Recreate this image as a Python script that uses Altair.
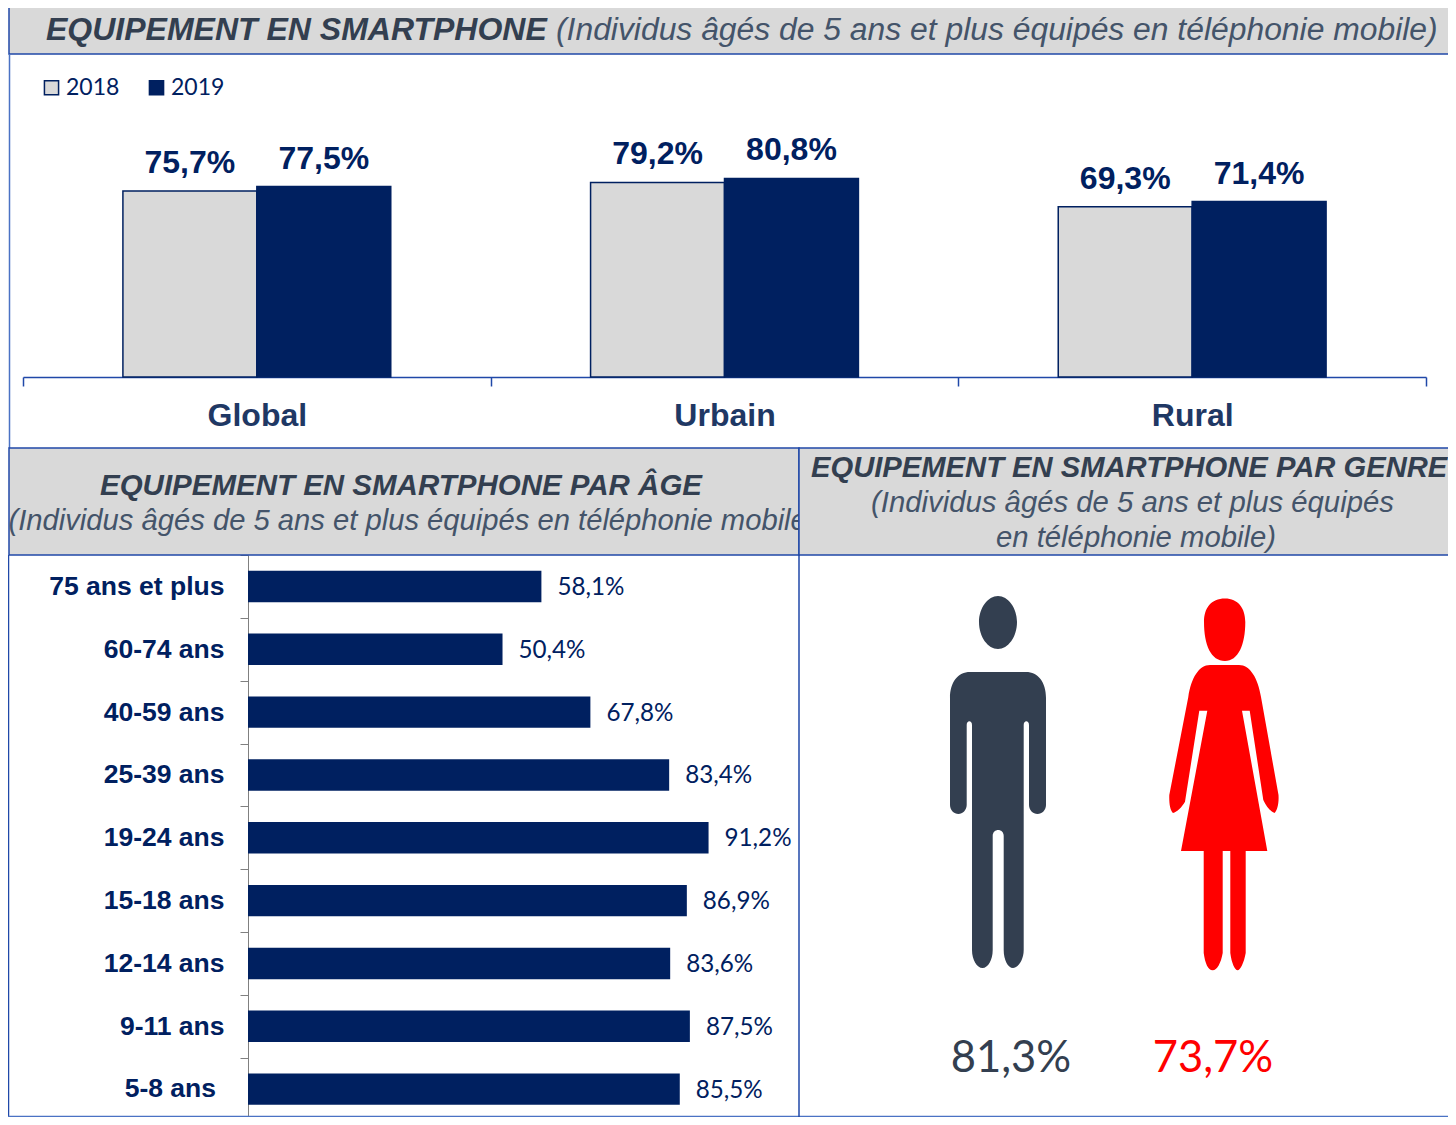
import re
import altair as alt
import pandas as pd

# ---- data ----
zones = ["Global", "Urbain", "Rural"]
years = ["2018", "2019"]
values_2018 = [75.7, 79.2, 69.3]
values_2019 = [77.5, 80.8, 71.4]
ages = ["75 ans et plus", "60-74 ans", "40-59 ans", "25-39 ans", "19-24 ans",
        "15-18 ans", "12-14 ans", "9-11 ans", "5-8 ans"]
age_values = [58.1, 50.4, 67.8, 83.4, 91.2, 86.9, 83.6, 87.5, 85.5]
gender_labels = ["81,3%", "73,7%"]

NAVY = "#002060"
GREY = "#D9D9D9"
SLATE = "#333F50"
LINE = "#2048A8"
SANS = "Liberation Sans"
LATO = "Lato"


def pct(v):
    return f"{v:.1f}%".replace(".", ",")


zone_df = pd.DataFrame(
    [{"zone": z, "year": "2018", "v": v, "label": pct(v)} for z, v in zip(zones, values_2018)]
    + [{"zone": z, "year": "2019", "v": v, "label": pct(v)} for z, v in zip(zones, values_2019)]
)
age_df = pd.DataFrame({"age": ages, "v": age_values, "label": [pct(v) for v in age_values]})

OX, OY = 8, 8  # page margin
W, H = 1440, 1109


def X(px):
    return px - OX


def Y(py):
    return py - OY


one = pd.DataFrame({"k": [0]})


def box(x0, x1, y0, y1, fill=GREY, stroke=LINE, sw=1.5):
    return alt.Chart(one).mark_rect(fill=fill, stroke=stroke, strokeWidth=sw).encode(
        x=alt.value(X(x0)), x2=alt.value(X(x1)), y=alt.value(Y(y0)), y2=alt.value(Y(y1)))


def line(x0, x1, y0, y1, color=LINE, sw=1.5):
    return alt.Chart(one).mark_rule(color=color, strokeWidth=sw).encode(
        x=alt.value(X(x0)), x2=alt.value(X(x1)), y=alt.value(Y(y0)), y2=alt.value(Y(y1)))


def text(s, x, y, size, color=SLATE, font=SANS, bold=False, italic=False, align="left"):
    return alt.Chart(pd.DataFrame({"t": [s]})).mark_text(
        font=font, fontSize=size, color=color, align=align, baseline="alphabetic",
        fontWeight="bold" if bold else "normal",
        fontStyle="italic" if italic else "normal",
    ).encode(text="t:N", x=alt.value(X(x)), y=alt.value(Y(y)))


# ---- figures: outlines measured in page pixels, normalised for a custom symbol ----
BOX = 400.0


def normalise(path, cx, cy):
    def conv(m):
        a, b = float(m.group(1)), float(m.group(2))
        return f"{(a - cx) / (BOX / 2):.5f} {(b - cy) / (BOX / 2):.5f}"
    return re.sub(r"(-?\d+\.?\d*)[ ,](-?\d+\.?\d*)", conv, path)


MAN_C = (998, 782)
WOMAN_C = (1224, 784)
man = (
    "M998 596 C1008 596 1017 608 1017 622 C1017 637 1008 649 998 649 "
    "C988 649 979 637 979 622 C979 608 988 596 998 596 Z "
    "M970 672 L1026 672 C1038 672 1046 682 1046 698 L1046 805 "
    "C1046 810 1042 814 1037.5 814 C1033 814 1029 810 1029 805 L1029 725 "
    "C1029 720 1023.7 720 1023.7 725 L1023.7 950 C1023.7 960 1018 968 1013 968 "
    "C1008 968 1003.7 960 1003.7 950 L1003.7 836 C1003.7 828 992.7 828 992.7 836 "
    "L992.7 950 C992.7 960 988 968 982.5 968 C977 968 972 960 972 950 L972 725 "
    "C972 720 966.7 720 966.7 725 L966.7 805 C966.7 810 962.5 814 958.5 814 "
    "C954 814 950 810 950 805 L950 698 C950 682 958 672 970 672 Z"
)
woman = (
    "M1225 598.5 C1238 598.5 1245.3 608 1245.3 622 C1245.3 645 1238 661 1225 661 "
    "C1211 661 1204 645 1204 622 C1204 608 1211 598.5 1225 598.5 Z "
    "M1210 665 L1239 665 C1250 665 1258 678 1261 697 L1278.5 795 "
    "C1279 803 1277.5 810 1274.5 813 C1270 811 1266 806 1263.3 800 L1249.7 710.7 L1242 710.7 "
    "L1267.3 851 L1245.7 851 L1245.7 953 C1244 963 1240 970.3 1237.7 970.3 "
    "C1235 970.3 1231.5 963 1230.3 953 L1230.3 851 L1222.7 851 L1222.7 953 "
    "C1221 963 1217 970.3 1212.7 970.3 C1208 970.3 1205 963 1203.7 953 L1203.7 851 "
    "L1181 851 L1207.3 710.7 L1199.3 710.7 L1185 801.7 C1182 807 1177 812 1173 813 "
    "C1170 810 1169 803 1169.3 795 L1188.3 697 C1191 678 1199 665 1210 665 Z"
)


def figure(path, center, color):
    return alt.Chart(one).mark_point(
        shape=normalise(path, *center), size=BOX ** 2, filled=True, fill=color,
        stroke=None, opacity=1,
    ).encode(x=alt.value(X(center[0])), y=alt.value(Y(center[1])))


# ---- scales, given directly in chart pixels ----
zone_x = alt.Scale(domain=zones, range=[X(23), X(1426)], paddingInner=0, paddingOuter=0)
year_off = alt.Scale(domain=years, paddingInner=0, paddingOuter=0.746)
year_off_text = alt.Scale(type="band", domain=years, paddingInner=0, paddingOuter=0.746)
zone_x_text = alt.Scale(type="band", domain=zones, range=[X(23), X(1426)], paddingInner=0, paddingOuter=0)
zone_y = alt.Scale(domain=[0, 100], range=[Y(377), Y(377) - 245.7])
age_y = alt.Scale(domain=ages, range=[Y(555), Y(1120.5)], paddingInner=0.5, paddingOuter=0.25)
age_y_axis = alt.Scale(type="band", domain=ages, range=[Y(555), Y(1120.5)], paddingInner=0, paddingOuter=0)
age_y_text = alt.Scale(domain=ages, range=[Y(555), Y(1120.5)], padding=0.5)
age_x = alt.Scale(domain=[0, 100], range=[X(248), X(248) + 505])

zone_bars = alt.Chart(zone_df).mark_bar(stroke=NAVY, strokeWidth=1.5).encode(
    x=alt.X("zone:N", scale=zone_x, title=None, axis=alt.Axis(
        orient="bottom", offset=Y(377) - H, tickBand="extent", labelAngle=0, grid=False,
        domainColor=LINE, domainWidth=1.5, tickColor=LINE, tickWidth=1.5, tickSize=9,
        labelFont=SANS, labelFontWeight="bold", labelFontSize=32, labelColor="#1F3864",
        labelPadding=39, labelBaseline="alphabetic")),
    xOffset=alt.XOffset("year:N", scale=year_off, title=None),
    y=alt.Y("v:Q", scale=zone_y, axis=None),
    color=alt.Color("year:N", scale=alt.Scale(domain=years, range=[GREY, NAVY]), legend=alt.Legend(
        orient="none", legendX=X(40), legendY=Y(76), direction="horizontal", title=None, padding=0,
        symbolType="square", symbolSize=200, symbolStrokeColor=NAVY, symbolStrokeWidth=1.5,
        symbolOpacity=1, labelFont=LATO, labelFontSize=23, labelColor=NAVY, labelOffset=3,
        columnPadding=25)),
)
zone_labels = alt.Chart(zone_df).mark_text(
    font=SANS, fontWeight="bold", fontSize=32, color=NAVY, baseline="alphabetic", dy=-18,
).encode(
    x=alt.X("zone:N", scale=zone_x_text, axis=None),
    xOffset=alt.XOffset("year:N", scale=year_off_text),
    y=alt.Y("v:Q", scale=zone_y, axis=None),
    text="label:N",
)
age_bars = alt.Chart(age_df).mark_bar(color=NAVY).encode(
    x=alt.X("v:Q", scale=age_x, axis=None),
    y=alt.Y("age:N", scale=age_y, axis=None),
)
# category axis on a band scale without padding: its ticks fall midway between the bars
age_axis = alt.Chart(age_df).mark_bar(opacity=0).encode(
    x=alt.X("v:Q", scale=age_x, axis=None),
    y=alt.Y("age:N", scale=age_y_axis, title=None, axis=alt.Axis(
        orient="left", offset=-X(248), tickBand="extent", grid=False,
        domainColor="#808080", domainWidth=1, tickColor="#808080", tickWidth=1, tickSize=8,
        labelFont=SANS, labelFontWeight="bold", labelFontSize=26.5, labelColor=NAVY,
        labelPadding=16, labelExpr="datum.label == '5-8 ans' ? '' : datum.label")),
)
age_labels = alt.Chart(age_df).mark_text(
    font=LATO, fontSize=24.2, color=NAVY, align="left", baseline="middle", dx=16, dy=1.5,
).encode(
    x=alt.X("v:Q", scale=age_x, axis=None),
    y=alt.Y("age:N", scale=age_y_text, axis=None),
    text="label:N",
)
# the reference sets this one category label a little further left than the others
last_age = alt.Chart(age_df[age_df["age"] == "5-8 ans"]).mark_text(
    font=SANS, fontWeight="bold", fontSize=26.5, color=NAVY, align="right", baseline="middle",
).encode(
    x=alt.value(X(216)),
    y=alt.Y("age:N", scale=age_y_text, axis=None),
    text="age:N",
)

layers = [
    # panel frames and first headers
    box(9, 1470, 0, 54),
    line(9.5, 9.5, 54, 448, color="#4A72C4"),
    line(8.5, 8.5, 555, 1117),
    line(8, 1456, 1116.5, 1116.5, color="#4A72C4"),
    line(799, 799, 555, 1117),
    box(9, 799, 448, 555),
    text("EQUIPEMENT EN SMARTPHONE", 46, 40, 32, bold=True, italic=True),
    text("(Individus âgés de 5 ans et plus équipés en téléphonie mobile)", 556, 40, 31.85, color="#44546A", italic=True),
    text("EQUIPEMENT EN SMARTPHONE PAR ÂGE", 401, 495, 29.5, bold=True, italic=True, align="center"),
    text("(Individus âgés de 5 ans et plus équipés en téléphonie mobile)", 8.5, 530, 29.2, color="#44546A", italic=True),
    box(799, 1470, 448, 555),
    text("EQUIPEMENT EN SMARTPHONE PAR GENRE", 811, 477, 29.2, bold=True, italic=True),
    text("(Individus âgés de 5 ans et plus équipés", 1132.5, 512, 29.3, color="#44546A", italic=True, align="center"),
    text("en téléphonie mobile)", 1136, 547, 29.3, color="#44546A", italic=True, align="center"),
    # charts
    zone_bars,
    zone_labels,
    age_axis,
    age_bars,
    age_labels,
    last_age,
    figure(man, MAN_C, SLATE),
    figure(woman, WOMAN_C, "#FF0000"),
    text(gender_labels[0], 1011, 1072, 43.5, font=LATO, align="center"),
    text(gender_labels[1], 1213, 1072, 43.5, color="#FF0000", font=LATO, align="center"),
]

chart = alt.layer(*layers).resolve_scale(
    x="independent", y="independent", color="independent", xOffset="independent",
).properties(
    width=W, height=H, padding=0, background="white",
    autosize=alt.AutoSizeParams(type="none"),
).configure_view(stroke=None)

chart.save("out.html", embed_options={"renderer": "svg", "actions": False})
